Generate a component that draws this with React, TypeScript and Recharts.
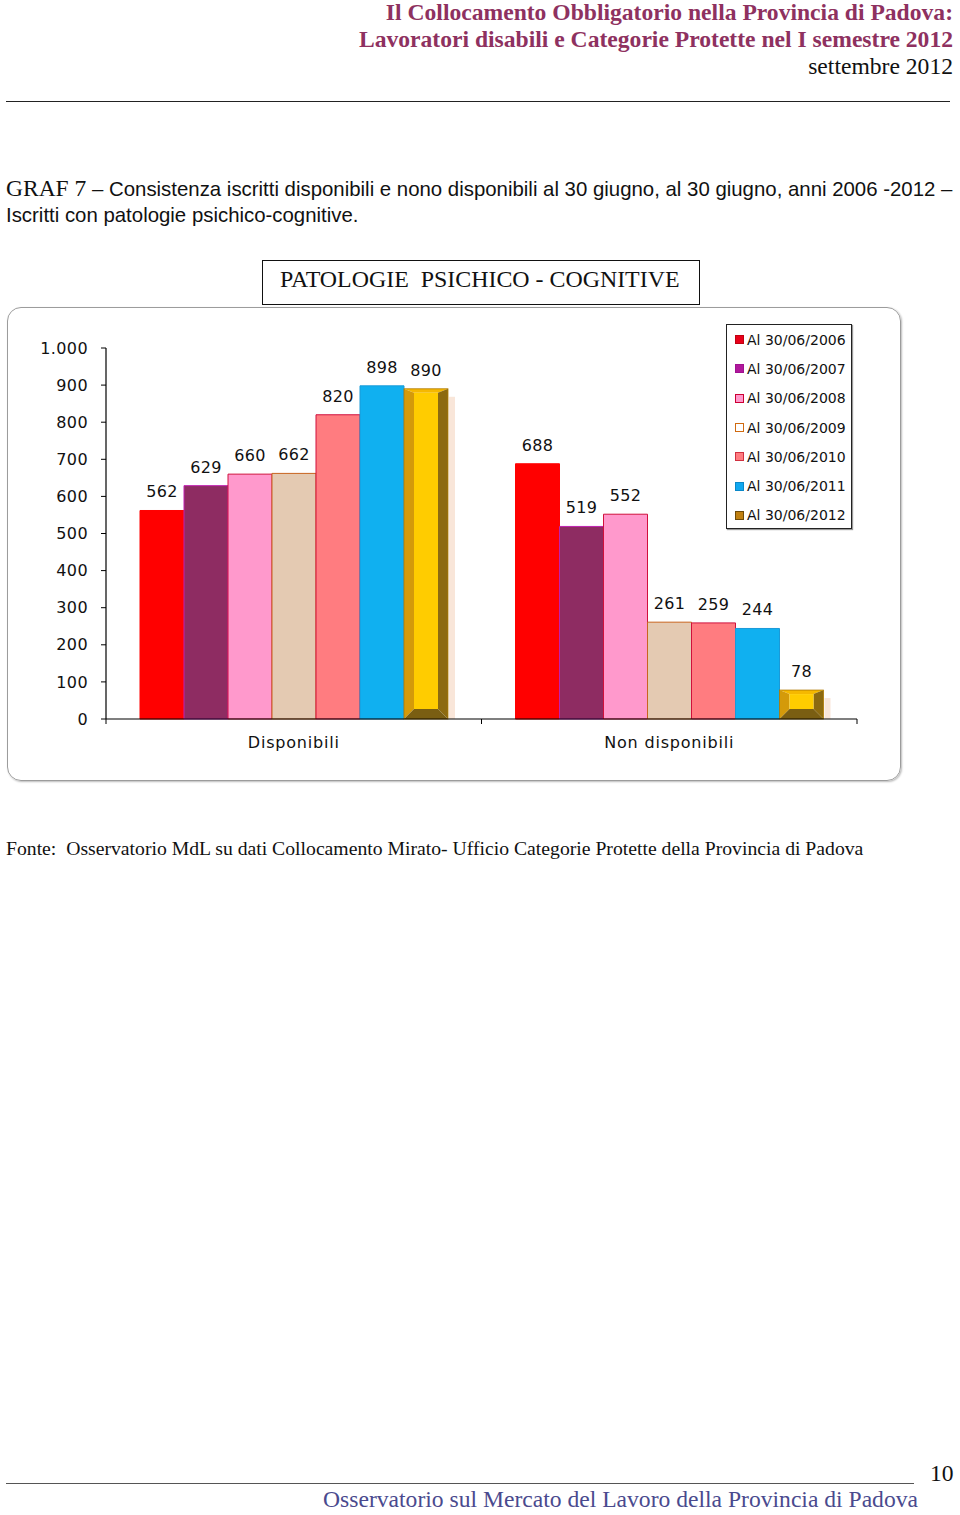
import React from 'react'
import { BarChart, Bar, XAxis, YAxis, LabelList, Legend } from 'recharts'

const categories = ['Disponibili', 'Non disponibili']
const years = ['2006', '2007', '2008', '2009', '2010', '2011', '2012']

const v2006 = [562, 688]
const v2007 = [629, 519]
const v2008 = [660, 552]
const v2009 = [662, 261]
const v2010 = [820, 259]
const v2011 = [898, 244]
const v2012 = [890, 78]
const seriesValues = [v2006, v2007, v2008, v2009, v2010, v2011, v2012]

const yTicks = [0, 100, 200, 300, 400, 500, 600, 700, 800, 900, 1000]

const data = categories.map((name, i) => {
  const row: Record<string, string | number> = { name }
  years.forEach((yr, k) => {
    row['y' + yr] = seriesValues[k][i]
  })
  return row
})

// bar look
const barFills = ['#FF0000', '#8E2C62', '#FF99CC', '#E4CAB2', '#FF7C80', '#10B0F0', '#FFCC00']
const barStrokes = ['#FF0000', '#C020B0', '#D0103C', '#C8641E', '#D0103C', '#1A9AD8', '#B07A00']
const legendFills = ['#E8001A', '#B0189C', '#FF99CC', '#FFFFFF', '#FF7C80', '#10A8F0', '#C08010']
const legendStrokes = ['#C00010', '#A01090', '#CC0033', '#D06A10', '#D03040', '#0A88C8', '#6E4A08']

const chartFont = '"DejaVu Sans", Verdana, sans-serif'
const serif = '"Liberation Serif", "Times New Roman", serif'
const sans = '"Liberation Sans", Arial, sans-serif'

const X_TICK_MARGIN = 18

const fmtThousands = (v: number) => v.toLocaleString('de-DE')

// category label plus the small marks at the band edges
function CategoryTick(props: any) {
  const { x, y, payload, width, visibleTicksCount } = props
  const half = width / (2 * (visibleTicksCount || categories.length))
  const axisY = y - X_TICK_MARGIN
  return (
    <g>
      <line x1={x - half} x2={x - half} y1={axisY} y2={axisY + 5} stroke="#000" />
      <line x1={x + half} x2={x + half} y1={axisY} y2={axisY + 5} stroke="#000" />
      <text
        x={x}
        y={y}
        dy="0.71em"
        textAnchor="middle"
        fill="#111"
        fontSize={16}
        fontFamily={chartFont}
        letterSpacing={0.8}
      >
        {payload.value}
      </text>
    </g>
  )
}

function GoldBar(props: any) {
  const { x, y, width: w, height: h } = props
  if (!h || h <= 0) return null
  const s = Math.min(10, w / 4, h / 2.6)
  const t = Math.min(4, h / 5)
  const x2 = x + w
  const y2 = y + h
  return (
    <g>
      <rect x={x2 + 1} y={y + 8} width={6} height={Math.max(0, h - 8)} fill="#F3CDB4" opacity={0.5} />
      <polygon points={`${x},${y} ${x2},${y} ${x2 - s},${y + t} ${x + s},${y + t}`} fill="#F5B800" />
      <polygon points={`${x},${y} ${x + s},${y + t} ${x + s},${y2 - s} ${x},${y2}`} fill="#D49A0A" />
      <polygon points={`${x2},${y} ${x2},${y2} ${x2 - s},${y2 - s} ${x2 - s},${y + t}`} fill="#8C6A10" />
      <polygon points={`${x},${y2} ${x2},${y2} ${x2 - s},${y2 - s} ${x + s},${y2 - s}`} fill="#7A5E12" />
      <rect x={x + s} y={y + t} width={Math.max(0, w - 2 * s)} height={Math.max(0, h - t - s)} fill="#FFCC00" />
      <rect x={x} y={y} width={w} height={h} fill="none" stroke="#B07A00" strokeWidth={0.8} />
    </g>
  )
}

function LegendBox() {
  return (
    <div
      style={{
        width: 126,
        height: 205,
        boxSizing: 'border-box',
        border: '1px solid #222',
        boxShadow: '1px 1px 1px #999',
        background: '#fff',
        fontFamily: chartFont,
        fontSize: 14,
        color: '#111',
      }}
    >
      {years.map((yr, k) => (
        <div key={yr} style={{ height: 29.3, display: 'flex', alignItems: 'center', paddingLeft: 8 }}>
          <span
            style={{
              display: 'inline-block',
              width: 7,
              height: 7,
              background: legendFills[k],
              border: `1px solid ${legendStrokes[k]}`,
              marginRight: 3,
            }}
          />
          <span>Al 30/06/{yr}</span>
        </div>
      ))}
    </div>
  )
}

export default function App() {
  return (
    <div style={{ position: 'absolute', left: 0, top: 0, width: 960, height: 1515, background: '#fff' }}>
      {/* page header */}
      <div style={{ position: 'absolute', right: 7, top: -1, textAlign: 'right', fontFamily: serif, fontSize: 23.6, lineHeight: '27px' }}>
        <div style={{ fontWeight: 'bold', color: '#8E3160' }}>Il Collocamento Obbligatorio nella Provincia di Padova:</div>
        <div style={{ fontWeight: 'bold', color: '#8E3160' }}>Lavoratori disabili e Categorie Protette nel I semestre 2012</div>
        <div style={{ color: '#111' }}>settembre 2012</div>
      </div>
      <div style={{ position: 'absolute', left: 6, top: 101, width: 944, borderTop: '1px solid #222' }} />

      <div style={{ position: 'absolute', left: 6, top: 176, width: 954, lineHeight: '24px', color: '#111' }}>
        <div style={{ whiteSpace: 'nowrap' }}>
          <span style={{ fontFamily: serif, fontSize: 23.5 }}>GRAF 7</span>
          <span style={{ fontFamily: sans, fontSize: 20.4 }}> – Consistenza iscritti disponibili e nono disponibili al 30 giugno, al 30 giugno, anni 2006 -2012 –</span>
        </div>
        <div style={{ fontFamily: sans, fontSize: 20.4 }}>Iscritti con patologie psichico-cognitive.</div>
      </div>

      <div
        style={{
          position: 'absolute',
          left: 262,
          top: 260,
          width: 438,
          height: 45,
          boxSizing: 'border-box',
          border: '1.5px solid #111',
          fontFamily: serif,
          fontSize: 23.9,
          lineHeight: '36px',
          paddingLeft: 17,
          whiteSpace: 'pre',
          color: '#111',
        }}
      >
        PATOLOGIE  PSICHICO - COGNITIVE
      </div>

      {/* chart frame */}
      <div
        style={{
          position: 'absolute',
          left: 7,
          top: 307,
          width: 894,
          height: 474,
          boxSizing: 'border-box',
          border: '1.5px solid #9c9c9c',
          borderRadius: 14,
          boxShadow: '1px 1px 2px #bbb',
        }}
      />
      <div style={{ position: 'absolute', left: 7, top: 307 }}>
        <BarChart
          width={894}
          height={474}
          data={data}
          margin={{ top: 41, right: 44, left: 0, bottom: 0 }}
          barCategoryGap={34}
          barGap={0}
        >
          <XAxis
            dataKey="name"
            height={62}
            axisLine={{ stroke: '#000', strokeWidth: 1.2 }}
            tickLine={false}
            tickSize={0}
            tickMargin={X_TICK_MARGIN}
            tick={<CategoryTick />}
          />
          <YAxis
            width={99}
            domain={[0, 1000]}
            ticks={yTicks}
            interval={0}
            tickFormatter={fmtThousands}
            axisLine={{ stroke: '#000', strokeWidth: 1.2 }}
            tickLine={{ stroke: '#000' }}
            tickSize={5}
            tickMargin={13}
            tick={{ fill: '#111', fontSize: 16, fontFamily: chartFont, letterSpacing: 0.4 }}
          />
          <Legend
            layout="vertical"
            align="center"
            verticalAlign="middle"
            content={() => <LegendBox />}
            wrapperStyle={{ left: 719, top: 17, width: 126, height: 205 }}
          />
          {years.map((yr, k) => (
            <Bar
              key={yr}
              dataKey={'y' + yr}
              name={'Al 30/06/' + yr}
              fill={barFills[k]}
              stroke={barStrokes[k]}
              strokeWidth={1}
              isAnimationActive={false}
              shape={k === 6 ? GoldBar : undefined}
            >
              <LabelList
                dataKey={'y' + yr}
                position="top"
                offset={13}
                style={{ fill: '#111', fontSize: 16, fontFamily: chartFont, letterSpacing: 0.4 }}
              />
            </Bar>
          ))}
        </BarChart>
      </div>

      <div style={{ position: 'absolute', left: 6, top: 837, fontFamily: serif, fontSize: 19.7, color: '#111', whiteSpace: 'pre' }}>
        Fonte:  Osservatorio MdL su dati Collocamento Mirato- Ufficio Categorie Protette della Provincia di Padova
      </div>

      {/* page footer */}
      <div style={{ position: 'absolute', left: 6, top: 1483, width: 908, borderTop: '1px solid #555' }} />
      <div style={{ position: 'absolute', left: 930, top: 1460, fontFamily: serif, fontSize: 23.6, color: '#111' }}>10</div>
      <div style={{ position: 'absolute', right: 42, top: 1486, fontFamily: serif, fontSize: 23.6, color: '#4A4A8E' }}>
        Osservatorio sul Mercato del Lavoro della Provincia di Padova
      </div>
    </div>
  )
}
